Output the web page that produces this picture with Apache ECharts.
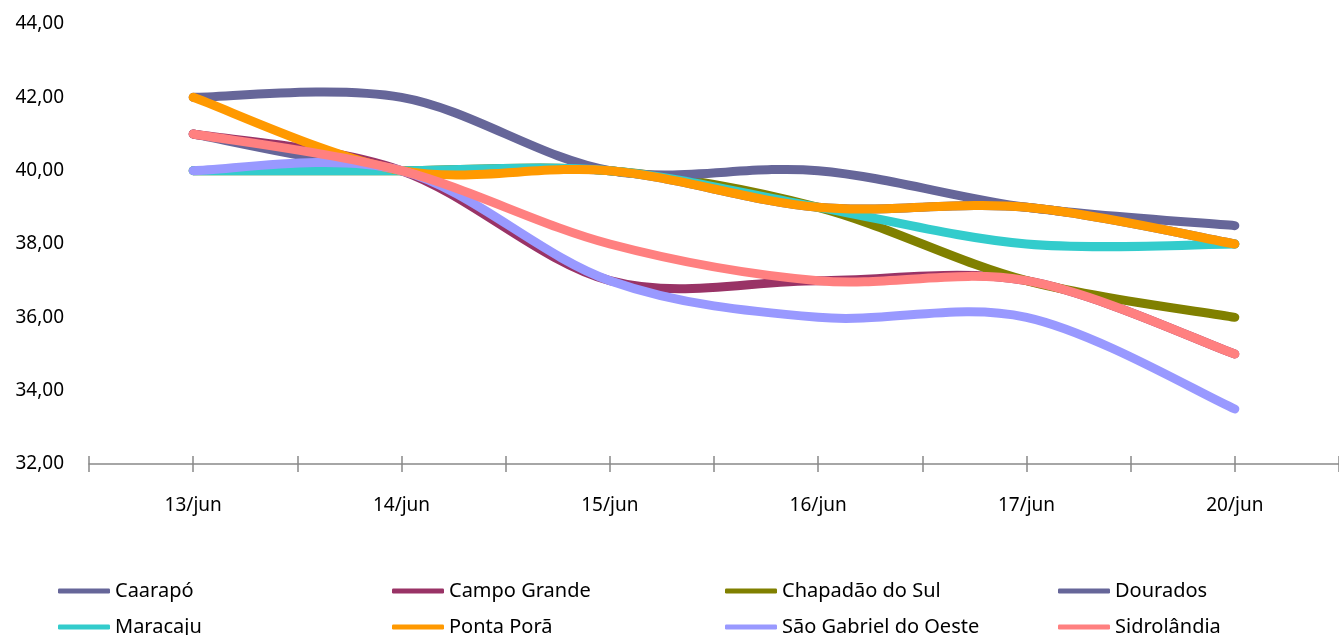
<!DOCTYPE html>
<html>
<head>
<meta charset="utf-8">
<script src="https://cdn.jsdelivr.net/npm/echarts@6/dist/echarts.min.js"></script>
<style>html,body{margin:0;padding:0;background:#fff;}#c{width:1339px;height:635px;}</style>
</head>
<body>
<div id="c"></div>
<script>
const categories = ['13/jun', '14/jun', '15/jun', '16/jun', '17/jun', '20/jun'];
const seriesNames = ['Caarapó', 'Campo Grande', 'Chapadão do Sul', 'Dourados', 'Maracaju', 'Ponta Porã', 'São Gabriel do Oeste', 'Sidrolândia'];
const caarapo = [41, 40, 40, 39, 39, 38];
const campoGrande = [41, 40, 37, 37, 37, 35];
const chapadao = [40, 40, 40, 39, 37, 36];
const dourados = [42, 42, 40, 40, 39, 38.5];
const maracaju = [40, 40, 40, 39, 38, 38];
const pontaPora = [42, 40, 40, 39, 39, 38];
const saoGabriel = [40, 40, 37, 36, 36, 33.5];
const sidrolandia = [41, 40, 38, 37, 37, 35];
const yTicks = [32, 34, 36, 38, 40, 42, 44];
const colors = ['#666699', '#993366', '#808000', '#666699', '#33CCCC', '#FF9900', '#9999FF', '#FF8080'];
const allData = [caarapo, campoGrande, chapadao, dourados, maracaju, pontaPora, saoGabriel, sidrolandia];
const halfTicks = Array.from({length: 12}, (_, i) => 'h' + i);

const FONT = 'Noto Sans';
const chart = echarts.init(document.getElementById('c'));

const legendPos = [[58, 581], [392, 581], [725, 581], [1058, 581], [58, 617], [392, 617], [725, 617], [1058, 617]];
const legends = seriesNames.map((n, i) => ({
  data: [n], left: legendPos[i][0], top: legendPos[i][1], orient: 'horizontal',
  icon: 'roundRect', itemWidth: 52, itemHeight: 5, itemGap: 0, padding: 0,
  textStyle: {fontFamily: FONT, fontSize: 20, color: '#000', padding: [0, 0, 0, 0]}
}));

// Smooth curve (Catmull-Rom style, like the spreadsheet's smoothed line) through the points
// located by the chart's own scales via api.coord.
function makeRender(idx) {
  return function (params, api) {
    if (params.dataIndex !== 0) return null;
    const vals = allData[idx];
    const pts = vals.map((v, j) => api.coord([j, v]));
    const n = pts.length;
    let d = 'M' + pts[0][0] + ' ' + pts[0][1];
    for (let i = 0; i < n - 1; i++) {
      const p0 = pts[Math.max(i - 1, 0)], p1 = pts[i], p2 = pts[i + 1], p3 = pts[Math.min(i + 2, n - 1)];
      const c1x = p1[0] + (p2[0] - p0[0]) / 6, c1y = p1[1] + (p2[1] - p0[1]) / 6;
      const c2x = p2[0] - (p3[0] - p1[0]) / 6, c2y = p2[1] - (p3[1] - p1[1]) / 6;
      d += ' C' + c1x + ' ' + c1y + ' ' + c2x + ' ' + c2y + ' ' + p2[0] + ' ' + p2[1];
    }
    return {
      type: 'path',
      shape: {pathData: d},
      style: {stroke: colors[idx], lineWidth: 9, fill: null, lineCap: 'round', lineJoin: 'round'}
    };
  };
}

chart.setOption({
  animation: false,
  color: colors,
  grid: {left: 89, top: 24, width: 1260, height: 440},
  legend: legends,
  xAxis: [
    {type: 'category', data: categories, boundaryGap: true,
     axisLine: {show: true, lineStyle: {color: '#898989', width: 1.5}},
     axisTick: {show: false},
     axisLabel: {fontFamily: FONT, fontSize: 19, color: '#000', margin: 32}},
    {type: 'category', data: halfTicks, position: 'bottom', boundaryGap: true,
     axisLine: {show: false}, axisLabel: {show: false},
     axisTick: {show: true, length: 8, lineStyle: {color: '#898989', width: 1.5}}},
    {type: 'category', data: halfTicks, position: 'bottom', boundaryGap: true,
     axisLine: {show: false}, axisLabel: {show: false},
     axisTick: {show: true, inside: true, length: 8, lineStyle: {color: '#898989', width: 1.5}}}
  ],
  yAxis: {type: 'value', min: yTicks[0], max: yTicks[yTicks.length - 1], interval: 2,
    axisLine: {show: false}, axisTick: {show: false}, splitLine: {show: false},
    axisLabel: {fontFamily: FONT, fontSize: 19, color: '#000', margin: 25,
      formatter: v => v.toFixed(2).replace('.', ',')}},
  series: seriesNames.map((n, i) => ({
    name: n, type: 'custom', xAxisIndex: 0, yAxisIndex: 0,
    data: allData[i].map((v, j) => [j, v]),
    encode: {x: 0, y: 1},
    renderItem: makeRender(i),
    itemStyle: {color: colors[i]},
    clip: false
  }))
});
</script>
</body>
</html>
